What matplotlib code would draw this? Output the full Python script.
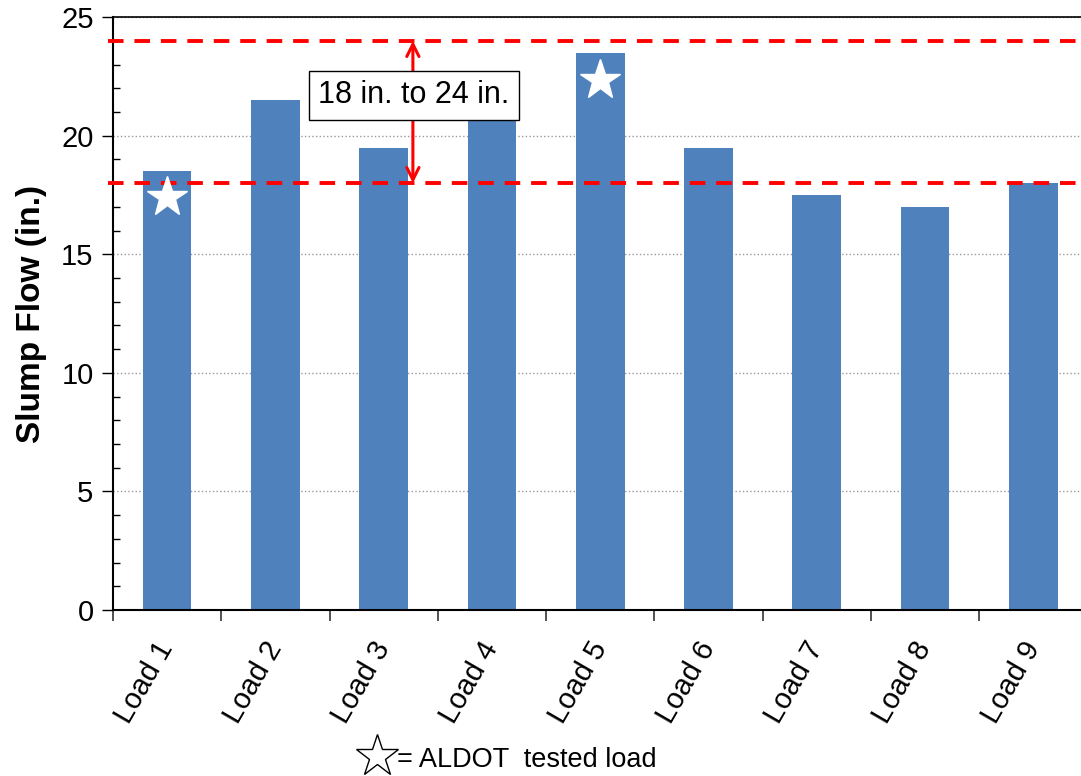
import matplotlib
matplotlib.use("Agg")
import matplotlib.pyplot as plt
import numpy as np

plt.rcParams['font.family'] = ['Liberation Sans', 'DejaVu Sans']

cargas = ["Load 1", "Load 2", "Load 3", "Load 4", "Load 5", "Load 6", "Load 7", "Load 8", "Load 9"]
slump = [18.5, 21.5, 19.5, 21.0, 23.5, 19.5, 17.5, 17.0, 18.0]
# cargas ensaiadas pelo ALDOT (indice, altura da estrela)
aldot_idx = [0, 4]
aldot_y = [17.4, 22.35]
lim_inf = 18
lim_sup = 24

fig = plt.figure(figsize=(10.81, 7.76), dpi=100)
ax = fig.add_axes([0.1045, 0.2139, 0.909, 0.764])

x = np.arange(len(cargas))
ax.bar(x, slump, width=0.45, color='#4F81BD', zorder=2)

ax.plot(aldot_idx, aldot_y, linestyle='none', marker='*', markersize=30,
        markerfacecolor='white', markeredgecolor='white', zorder=4)

ax.set_xlim(-0.5, 8.5 + 0.075)
ax.set_ylim(0, 25)

# linhas limite
for yv in [lim_inf, lim_sup]:
    ax.plot([-0.55, 8.6], [yv, yv], color='#FF0000', lw=2.8,
            linestyle=(0, (4, 2.8)), zorder=3, clip_on=False)

ax.annotate('', xy=(2.27, lim_sup), xytext=(2.27, lim_inf),
            arrowprops=dict(arrowstyle='<->', color='#FF0000', lw=2.2,
                            mutation_scale=22, shrinkA=0, shrinkB=0), zorder=5)
ax.text(2.28, 21.7, "18 in. to 24 in.", fontsize=22, ha='center', va='center',
        bbox=dict(boxstyle='square,pad=0.3', facecolor='white', edgecolor='black', lw=1),
        zorder=6)

# eixos
ax.set_yticks(np.arange(0, 26, 5))
ax.set_yticks(np.arange(0, 26, 1), minor=True)
ax.tick_params(axis='y', which='major', direction='out', length=8, width=1, labelsize=21, pad=6)
ax.tick_params(axis='y', which='minor', direction='in', length=5, width=1)
ax.grid(axis='y', which='major', linestyle=':', color='#999999', lw=1, zorder=0)

ax.set_xticks(np.arange(-0.5, 9, 1))
ax.set_xticklabels([])
ax.set_xticks(x, minor=True)
ax.set_xticklabels(cargas, minor=True, rotation=60, ha='right', va='center',
                   rotation_mode='anchor', fontsize=21)
ax.tick_params(axis='x', which='major', direction='out', length=8, width=1.2, color='#333333')
ax.tick_params(axis='x', which='minor', length=0, pad=24)

ax.spines['right'].set_visible(False)
ax.spines['left'].set_linewidth(1.5)
ax.spines['bottom'].set_linewidth(1.5)
ax.spines['top'].set_linewidth(1.2)

ax.set_ylabel("Slump Flow (in.)", fontsize=24, fontweight='bold', labelpad=10)

# legenda da estrela
fig.lines.append(plt.Line2D([377 / 1081], [1 - 756 / 776], transform=fig.transFigure,
                            marker='*', markersize=32, markerfacecolor='white',
                            markeredgecolor='black', markeredgewidth=1, linestyle='none'))
fig.text(397 / 1081, 1 - 760 / 776, "= ALDOT  tested load", fontsize=19.5, ha='left', va='center')

plt.savefig("out.png", dpi=100)
